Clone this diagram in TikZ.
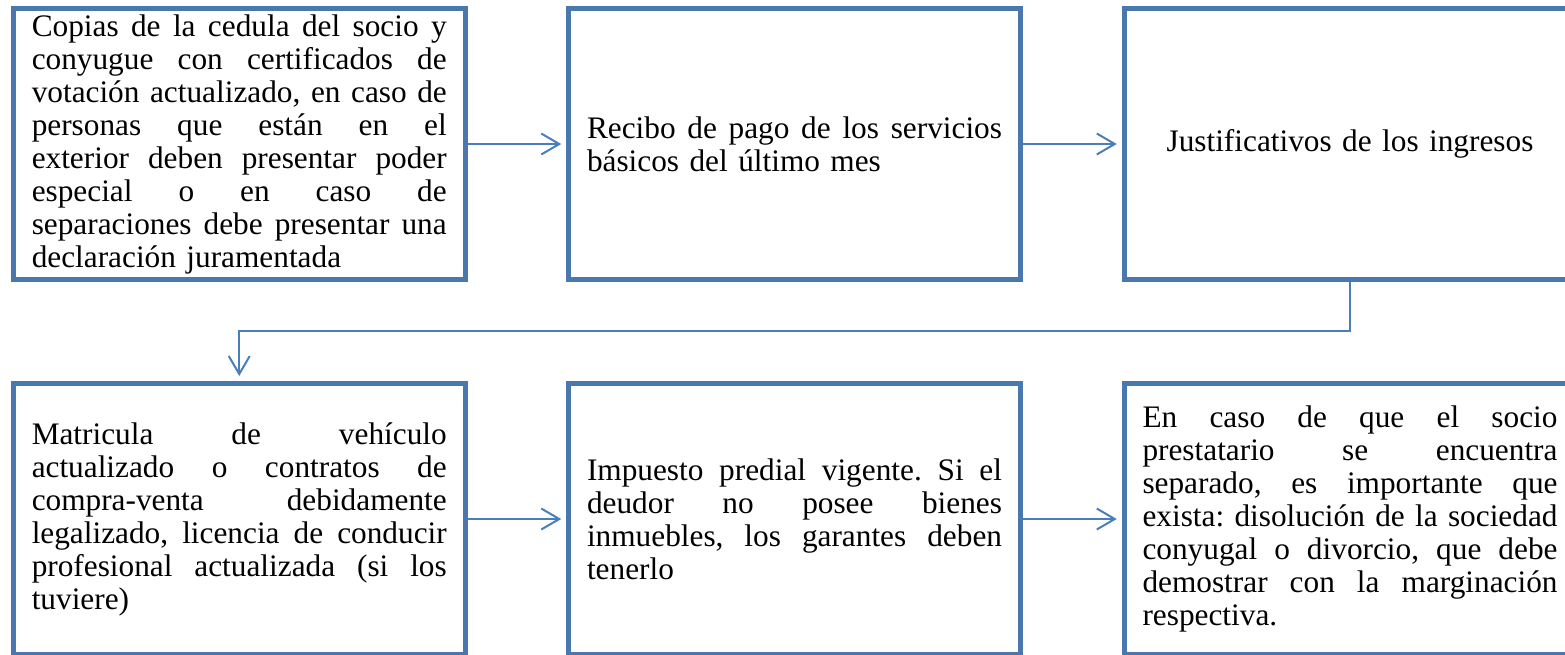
\documentclass[tikz,border=0pt]{standalone}
\usepackage{fontspec}
\setmainfont{Liberation Serif}
\usetikzlibrary{arrows.meta}
\definecolor{boxblue}{RGB}{74,119,173}
\definecolor{linkblue}{RGB}{74,126,187}
\newcommand\jl[1]{\leavevmode\hbox to 415pt{\spaceskip=0pt\xspaceskip=0pt\relax #1}}
\frenchspacing
\begin{document}
\begin{tikzpicture}[x=1pt,y=-1pt,
  stepbox/.style={draw=boxblue, line width=5pt, minimum width=451.5pt, minimum height=271pt,
    inner xsep=18.25pt, inner ysep=0pt, text width=415pt, align=left,
    font=\fontsize{31.3}{33}\selectfont\frenchspacing},
  link/.style={draw=linkblue, line width=2pt,
    -{Straight Barb[length=18pt,width=21pt,line width=2pt]}, shorten >=5pt}]
\useasboundingbox (0,0) rectangle (1565,654);
\clip (0,0) rectangle (1565,654);
\node[stepbox] (b1) at (239.25,144) {\jl{Copias de la cedula del socio y}\\
\jl{conyugue con certificados de}\\
\jl{votación actualizado, en caso de}\\
\jl{personas que están en el}\\
\jl{exterior deben presentar poder}\\
\jl{especial o en caso de}\\
\jl{separaciones debe presentar una}\\
declaración juramentada};
\node[stepbox] (b2) at (794.5,144) {\jl{Recibo de pago de los servicios}\\
básicos del último mes};
\node[stepbox, align=center] (b3) at (1350,144) {Justificativos de los ingresos};
\node[stepbox] (b4) at (239.25,519) {\jl{Matricula de vehículo}\\
\jl{actualizado o contratos de}\\
\jl{compra-venta debidamente}\\
\jl{legalizado, licencia de conducir}\\
\jl{profesional actualizada (si los}\\
tuviere)};
\node[stepbox] (b5) at (794.5,519) {\jl{Impuesto predial vigente. Si el}\\
\jl{deudor no posee bienes}\\
\jl{inmuebles, los garantes deben}\\
tenerlo};
\node[stepbox] (b6) at (1350,519) {\jl{En caso de que el socio}\\
\jl{prestatario se encuentra}\\
\jl{separado, es importante que}\\
\jl{exista: disolución de la sociedad}\\
\jl{conyugal o divorcio, que debe}\\
\jl{demostrar con la marginación}\\
respectiva.};
\coordinate (mid) at (0,331);
\draw[link] (b1.east) -- (b2.west);
\draw[link] (b2.east) -- (b3.west);
\draw[link] (b3.south) |- (mid -| b4.north) -- (b4.north);
\draw[link] (b4.east) -- (b5.west);
\draw[link] (b5.east) -- (b6.west);
\end{tikzpicture}
\end{document}
